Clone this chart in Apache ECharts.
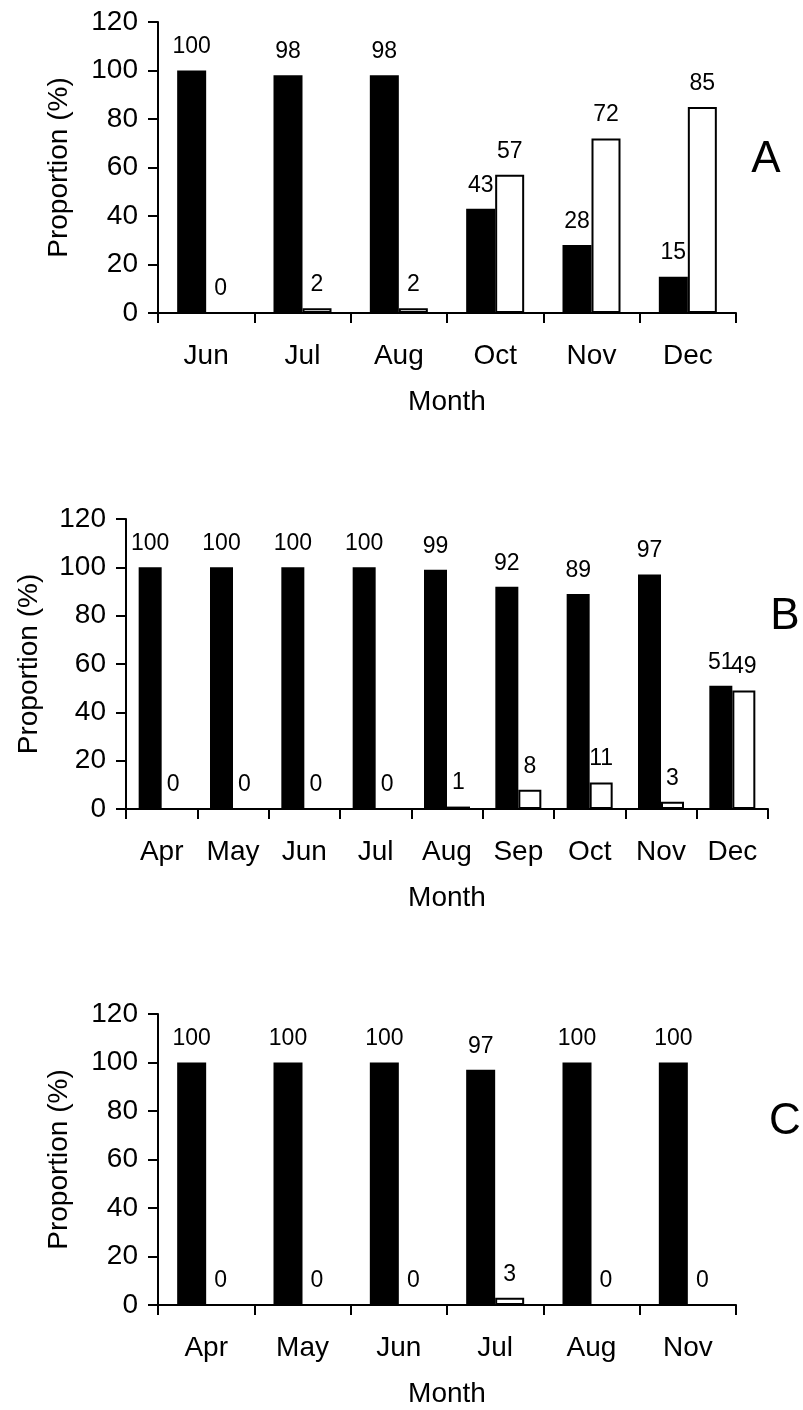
<!DOCTYPE html>
<html>
<head>
<meta charset="utf-8">
<script src="https://cdn.jsdelivr.net/npm/echarts@6/dist/echarts.min.js"></script>
<style>
  html, body { margin: 0; padding: 0; background: #fff; }
  #main { width: 803px; height: 1410px; }
</style>
</head>
<body>
<div id="main"></div>
<script>
// panel A
var monthsA = ["Jun", "Jul", "Aug", "Oct", "Nov", "Dec"];
var blackA = [100, 98, 98, 43, 28, 15];
var whiteA = [0, 2, 2, 57, 72, 85];
// panel B
var monthsB = ["Apr", "May", "Jun", "Jul", "Aug", "Sep", "Oct", "Nov", "Dec"];
var blackB = [100, 100, 100, 100, 99, 92, 89, 97, 51];
var whiteB = [0, 0, 0, 0, 1, 8, 11, 3, 49];
// panel C
var monthsC = ["Apr", "May", "Jun", "Jul", "Aug", "Nov"];
var blackC = [100, 100, 100, 97, 100, 100];
var whiteC = [0, 0, 0, 3, 0, 0];

var yTicks = { min: 0, max: 120, interval: 20 };
var font = "'Liberation Sans', Arial, sans-serif";

var chart = echarts.init(document.getElementById("main"));

// 三个面板的位置
var grids = [
  { left: 158, right: 67, top: 22, height: 291 },
  { left: 126, right: 35, top: 519, height: 290 },
  { left: 158, right: 67, top: 1014, height: 291 },
];
var panels = [
  { months: monthsA, black: blackA, white: whiteA, barWidth: 29, nameGap: 85 },
  { months: monthsB, black: blackB, white: whiteB, barWidth: 23, nameGap: 83 },
  { months: monthsC, black: blackC, white: whiteC, barWidth: 29, nameGap: 85 },
];

var axisLine = { show: true, lineStyle: { color: "#000", width: 2 } };
var axisTick = { show: true, inside: false, length: 10, lineStyle: { color: "#000", width: 2 } };

var xAxis = [];
var yAxis = [];
var series = [];
panels.forEach(function (p, i) {
  xAxis.push({
    type: "category",
    gridIndex: i,
    data: p.months,
    name: "Month",
    nameLocation: "middle",
    nameGap: 75,
    nameTextStyle: { color: "#000", fontSize: 28, fontFamily: font },
    axisLine: axisLine,
    axisTick: { show: true, inside: false, alignWithLabel: false, interval: 0, length: 10, lineStyle: { color: "#000", width: 2 } },
    axisLabel: { color: "#000", fontSize: 28, fontFamily: font, margin: 29, interval: 0 },
  });
  yAxis.push({
    type: "value",
    gridIndex: i,
    min: yTicks.min,
    max: yTicks.max,
    interval: yTicks.interval,
    name: "Proportion (%)",
    nameLocation: "middle",
    nameGap: p.nameGap,
    nameTextStyle: { color: "#000", fontSize: 28, fontFamily: font },
    axisLine: axisLine,
    axisTick: axisTick,
    axisLabel: { color: "#000", fontSize: 28, fontFamily: font, margin: 20 },
    splitLine: { show: false },
  });
  var label = {
    show: true,
    position: "top",
    distance: 12,
    color: "#000",
    fontSize: 23,
    fontFamily: font,
  };
  series.push({
    type: "bar",
    xAxisIndex: i,
    yAxisIndex: i,
    data: p.black,
    barWidth: p.barWidth,
    barGap: "0%",
    itemStyle: { color: "#000" },
    label: label,
    animation: false,
  });
  series.push({
    type: "bar",
    xAxisIndex: i,
    yAxisIndex: i,
    data: p.white,
    barWidth: p.barWidth,
    barGap: "0%",
    itemStyle: { color: "#fff", borderColor: "#000", borderWidth: 2 },
    label: label,
    animation: false,
  });
});

var option = {
  backgroundColor: "#fff",
  animation: false,
  grid: grids,
  xAxis: xAxis,
  yAxis: yAxis,
  series: series,
  // 面板字母
  graphic: [
    { type: "text", x: 766, y: 160, style: { text: "A", fontSize: 44, fontFamily: font, fill: "#000", align: "center", verticalAlign: "middle" } },
    { type: "text", x: 785, y: 617, style: { text: "B", fontSize: 44, fontFamily: font, fill: "#000", align: "center", verticalAlign: "middle" } },
    { type: "text", x: 785, y: 1122, style: { text: "C", fontSize: 44, fontFamily: font, fill: "#000", align: "center", verticalAlign: "middle" } },
  ],
};
chart.setOption(option);
</script>
</body>
</html>
